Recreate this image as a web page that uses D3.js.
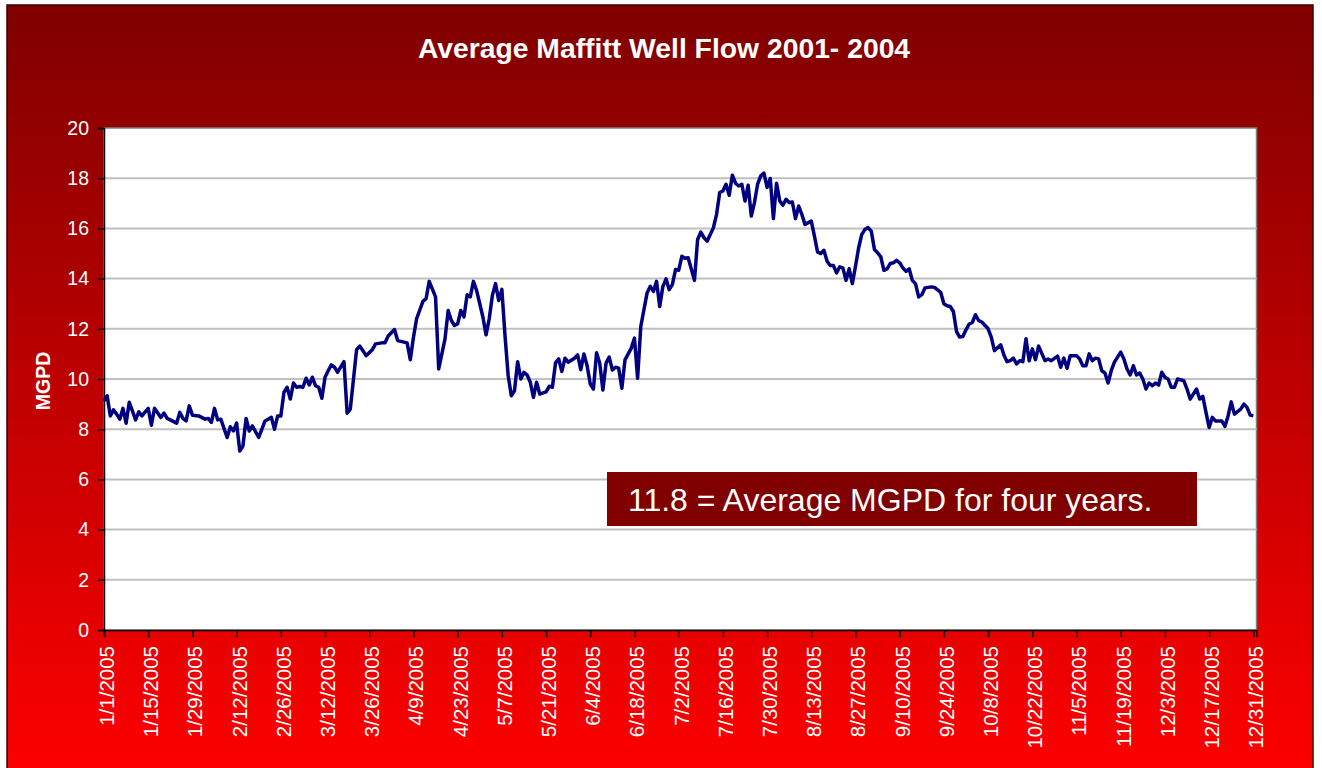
<!DOCTYPE html>
<html>
<head>
<meta charset="utf-8">
<script src="https://cdn.jsdelivr.net/npm/d3@7"></script>
<style>
  body { margin: 0; background: #ffffff; }
  svg { display: block; font-family: "Liberation Sans", Arial, sans-serif; }
</style>
</head>
<body>
<svg id="chart" width="1322" height="768"></svg>
<script>
// ---- Data -------------------------------------------------------------
const chartTitle = "Average Maffitt Well Flow 2001- 2004";
const yAxisTitle = "MGPD";
const fourYearAverage = 11.8;
const noteText = fourYearAverage.toFixed(1) + " = Average MGPD for four years.";

// Day of the year (0 = 1/1/2005) and average flow in MGPD
const dayIndex = [
  0,1,2,3,4,5,6,7,8,9,10,11,12,14,15,16,18,19,20,21,23,24,25,26,27,28,30,32,33,34,35,36,37,39,40,41,42,43,44,45,46,47,49,51,52,53,54,55,56,57,58,59,
  60,61,62,63,64,65,66,67,68,69,70,71,72,73,74,76,77,78,80,81,82,83,85,86,88,89,90,92,93,95,96,97,98,99,101,102,103,105,106,108,109,110,111,112,113,114,115,116,117,118,
  120,121,122,123,124,125,126,127,128,129,130,131,132,133,134,135,136,137,138,140,141,142,143,144,145,146,147,149,150,151,152,153,154,155,156,157,158,159,160,161,162,163,164,165,167,168,169,170,
  171,172,173,174,175,176,177,178,179,180,181,182,183,184,185,187,188,189,190,191,192,193,194,195,196,197,198,199,200,201,202,203,204,205,206,207,208,209,210,211,212,213,214,215,216,217,218,219,220,221,222,
  224,225,226,227,228,229,230,231,232,233,234,235,236,237,238,239,240,241,242,243,244,245,246,247,248,249,250,251,252,253,254,255,256,257,258,259,260,262,263,265,266,267,268,269,270,271,272,273,274,275,276,277,278,
  280,281,282,284,285,286,287,288,289,290,291,292,293,294,295,296,298,299,300,302,303,304,305,306,308,309,310,311,312,313,314,315,316,317,318,319,320,322,323,324,325,326,327,328,329,330,331,332,333,334,335,336,337,338,339,340,
  342,343,344,346,347,348,349,350,351,352,354,355,356,357,358,360,361,362,363,364
];
const flowMGPD = [
  9.13,9.33,8.53,8.77,8.6,8.4,8.83,8.24,9.07,8.73,8.37,8.69,8.53,8.83,8.16,8.83,8.47,8.64,8.43,8.37,8.24,8.67,8.43,8.33,8.93,8.56,8.53,8.4,8.43,8.27,8.83,8.37,8.4,7.67,8.1,7.93,8.24,7.13,7.33,8.43,7.93,8.13,7.67,8.33,8.4,8.47,8.0,8.53,8.53,9.47,9.67,9.2,
  9.84,9.67,9.7,9.67,10.03,9.76,10.07,9.73,9.67,9.23,10.07,10.33,10.56,10.47,10.27,10.69,8.64,8.8,11.17,11.31,11.13,10.93,11.17,11.4,11.44,11.44,11.71,11.97,11.53,11.47,11.44,10.77,11.65,12.4,13.09,13.2,13.89,13.27,10.4,11.6,12.73,12.33,12.13,12.2,12.73,12.47,13.36,13.27,13.89,13.53,
  12.47,11.76,12.4,13.33,13.8,13.13,13.57,11.73,10.13,9.33,9.53,10.69,10.0,10.27,10.16,9.87,9.27,9.87,9.4,9.49,9.71,9.67,10.64,10.8,10.3,10.83,10.67,10.83,10.96,10.37,11.0,10.53,9.8,9.6,11.05,10.63,9.56,10.63,10.87,10.36,10.47,10.43,9.63,10.76,11.23,11.63,10.03,12.09,
  12.76,13.43,13.69,13.49,13.89,12.89,13.69,13.99,13.56,13.76,14.36,14.33,14.89,14.81,14.83,13.93,15.56,15.85,15.63,15.49,15.76,16.03,16.56,17.43,17.49,17.76,17.32,18.12,17.8,17.69,17.76,17.09,17.72,16.49,17.03,17.76,18.09,18.2,17.63,17.99,16.39,17.8,17.1,16.92,17.16,17.03,17.05,16.39,16.89,16.56,16.16,
  16.29,15.69,15.05,15.0,15.13,14.69,14.52,14.52,14.23,14.47,14.43,13.93,14.39,13.8,14.49,15.23,15.76,15.96,16.03,15.89,15.16,15.03,14.87,14.33,14.39,14.6,14.63,14.73,14.63,14.43,14.29,14.39,13.93,13.8,13.27,13.36,13.63,13.67,13.65,13.45,13.0,12.92,12.89,12.69,11.89,11.67,11.69,11.96,12.19,12.25,12.56,12.33,12.27,
  12.0,11.67,11.13,11.36,10.96,10.69,10.73,10.83,10.6,10.73,10.69,11.6,10.73,11.2,10.77,11.31,10.73,10.8,10.73,10.91,10.47,10.83,10.43,10.93,10.93,10.8,10.53,10.53,11.0,10.73,10.83,10.8,10.33,10.24,9.84,10.33,10.67,11.07,10.8,10.4,10.16,10.53,10.16,10.24,10.0,9.6,9.84,9.73,9.84,9.76,10.27,10.07,10.0,9.67,9.67,10.0,
  9.93,9.6,9.2,9.6,9.2,9.31,8.67,8.07,8.47,8.33,8.33,8.11,8.53,9.09,8.6,8.8,9.0,8.87,8.56,8.53
];

// Axis ticks
const yTickValues = [0, 2, 4, 6, 8, 10, 12, 14, 16, 18, 20];
const xTickOffsets = d3.range(0, 365, 14);   // every two weeks, 1/1 .. 12/31
const yearStart = new Date(2005, 0, 1);
const yearEnd = new Date(2006, 0, 1);

// ---- Layout -----------------------------------------------------------
const svg = d3.select("#chart");
const plot = { left: 104, top: 128, right: 1256.5, bottom: 630 };

const x = d3.scaleTime().domain([yearStart, yearEnd]).range([plot.left, plot.right]);
const y = d3.scaleLinear().domain([0, 20]).range([plot.bottom, plot.top]);

const defs = svg.append("defs");
const grad = defs.append("linearGradient")
  .attr("id", "bgGrad").attr("x1", 0).attr("y1", 0).attr("x2", 0).attr("y2", 1);
grad.append("stop").attr("offset", "0%").attr("stop-color", "#7f0000");
grad.append("stop").attr("offset", "100%").attr("stop-color", "#ff0000");

// Chart frame with gradient fill
svg.append("rect")
  .attr("x", 7).attr("y", 5).attr("width", 1306).attr("height", 775)
  .attr("fill", "url(#bgGrad)")
  .attr("stroke", "#3a0000").attr("stroke-width", 1.5);

// Title
svg.append("text")
  .attr("x", 664).attr("y", 58)
  .attr("text-anchor", "middle")
  .attr("fill", "#ffffff")
  .attr("font-weight", "bold")
  .attr("font-size", 28.3)
  .text(chartTitle);

// Plot area
svg.append("rect")
  .attr("x", plot.left).attr("y", plot.top)
  .attr("width", plot.right - plot.left).attr("height", plot.bottom - plot.top)
  .attr("fill", "#ffffff")
  .attr("stroke", "#808080").attr("stroke-width", 1.5);

// Horizontal gridlines
svg.append("g")
  .selectAll("line")
  .data(yTickValues.filter(v => v > 0 && v < 20))
  .join("line")
  .attr("x1", plot.left).attr("x2", plot.right)
  .attr("y1", d => y(d)).attr("y2", d => y(d))
  .attr("stroke", "#c0c0c0").attr("stroke-width", 2);

// Y axis
const yAxis = svg.append("g")
  .attr("transform", `translate(${plot.left},0)`)
  .call(d3.axisLeft(y).tickValues(yTickValues).tickSize(6).tickPadding(9).tickFormat(d3.format("d")));
yAxis.select(".domain").attr("stroke", "#000000").attr("stroke-width", 1.5);
yAxis.selectAll(".tick line").attr("stroke", "#000000").attr("stroke-width", 1.5);
yAxis.selectAll(".tick text")
  .attr("fill", "#ffffff")
  .attr("font-size", 19.5)
  .attr("font-family", "Liberation Sans, Arial, sans-serif");

// X axis
const xTickDates = xTickOffsets.map(d => d3.timeDay.offset(yearStart, d));
const xAxis = svg.append("g")
  .attr("transform", `translate(0,${plot.bottom})`)
  .call(d3.axisBottom(x).tickValues(xTickDates).tickSize(7).tickFormat(d3.timeFormat("%-m/%-d/%Y")));
xAxis.select(".domain").attr("stroke", "#000000").attr("stroke-width", 1.5);
xAxis.selectAll(".tick line").attr("stroke", "#000000").attr("stroke-width", 1.5);
xAxis.selectAll(".tick text")
  .attr("fill", "#ffffff")
  .attr("font-size", 20.5)
  .attr("font-family", "Liberation Sans, Arial, sans-serif")
  .attr("text-anchor", "end")
  .attr("transform", "translate(2,16) rotate(-90)")
  .attr("x", 0).attr("y", 0).attr("dy", "0.36em");

// Y axis title
svg.append("text")
  .attr("transform", "translate(50,381) rotate(-90)")
  .attr("text-anchor", "middle")
  .attr("fill", "#ffffff")
  .attr("font-weight", "bold")
  .attr("font-size", 19.5)
  .text(yAxisTitle);

// Flow line
const series = dayIndex.map((d, i) => ({ date: d3.timeDay.offset(yearStart, d), value: flowMGPD[i] }));
svg.append("path")
  .datum(series)
  .attr("fill", "none")
  .attr("stroke", "#000080")
  .attr("stroke-width", 3.5)
  .attr("stroke-linejoin", "round")
  .attr("d", d3.line().x(d => x(d.date)).y(d => y(d.value)));

// Average note
const note = svg.append("g").attr("transform", "translate(607,472)");
note.append("rect")
  .attr("width", 590).attr("height", 54)
  .attr("fill", "#800000");
note.append("text")
  .attr("x", 21).attr("y", 39)
  .attr("fill", "#ffffff")
  .attr("font-size", 32)
  .text(noteText);
</script>
</body>
</html>
